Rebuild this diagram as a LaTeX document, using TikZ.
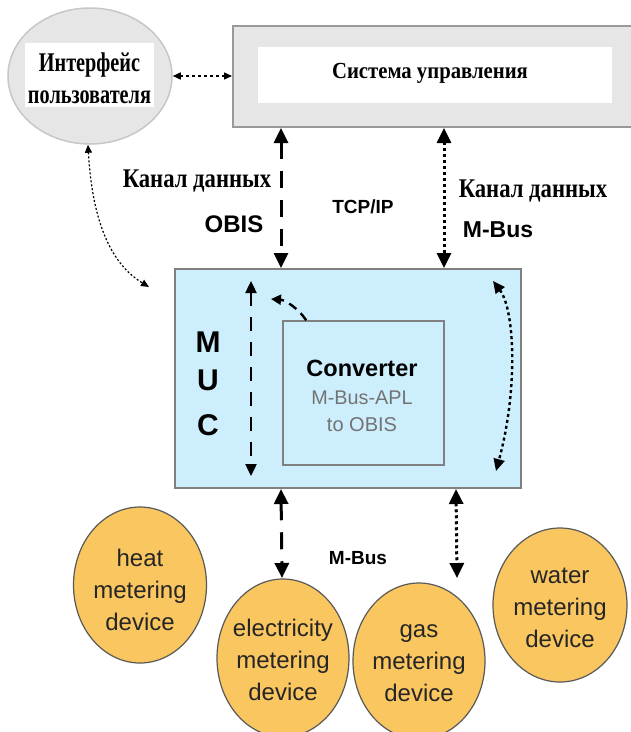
\documentclass[tikz,border=0pt]{standalone}
\usepackage{fontspec}
\setmainfont{Liberation Serif}
\setsansfont{Liberation Sans}
\newfontfamily\rusf[FakeStretch=0.84]{Liberation Serif}
\newfontfamily\rusi[FakeStretch=0.75]{Liberation Serif}
\newfontfamily\russ[FakeStretch=0.9]{Liberation Serif}
\usetikzlibrary{shapes.geometric,arrows.meta,calc}
\definecolor{mucblue}{HTML}{CDEEFC}
\definecolor{meter}{HTML}{F9C660}
\definecolor{lgray}{HTML}{E6E6E6}
\tikzset{
  big/.style={line width=3pt,{Triangle[width=14pt,length=15pt]}-{Triangle[width=14pt,length=15pt]}},
  mid/.style={line width=2.4pt,{Triangle[width=11pt,length=12pt]}-{Triangle[width=11pt,length=12pt]}},
  thin/.style={line width=1.4pt,{Triangle[width=7pt,length=8pt]}-{Triangle[width=7pt,length=8pt]}},
  dashA/.style={dash pattern=on 17pt off 12pt},
  dotA/.style={dash pattern=on 3pt off 3pt},
  meterbox/.style={ellipse,draw=black!65,line width=1.2pt,fill=meter,inner sep=0pt},
  metertext/.style={font=\sffamily\fontsize{24}{32}\selectfont,align=center,inner sep=0pt,text=black!85},
  rus/.style={font=\rusf\bfseries\fontsize{27}{32}\selectfont,inner sep=0pt,align=center},
  sansb/.style={font=\sffamily\bfseries,inner sep=0pt},
}
\begin{document}
\begin{tikzpicture}[x=1pt,y=-1pt]
\clip (0,0) rectangle (631,732);
\fill[white] (0,0) rectangle (631,732);
% system
\node[draw=black!40,line width=2pt,fill=lgray,minimum width=407pt,minimum height=101pt,inner sep=0pt] (sys) at (436.5,76.5) {};
\node[fill=white,minimum width=354pt,minimum height=56pt,inner sep=0pt] (sysin) at (435,75) {};
\node[font=\russ\bfseries\fontsize{23}{28}\selectfont,inner sep=0pt] (systext) at (430,73) {Система управления};
% interface
\node[ellipse,draw=black!22,line width=1.5pt,fill=lgray,minimum width=164pt,minimum height=136pt,inner sep=0pt] (ui) at (90,76) {};
\node[fill=white,minimum width=129pt,minimum height=64pt,inner sep=0pt] (uibox) at (89.5,75) {};
\node[rus,font=\rusi\bfseries\fontsize{27}{32}\selectfont] (uitext) at (89.5,78) {Интерфейс\\пользователя};
\draw[thin,dotA,line width=1.5pt] (ui.east) -- (sys.west |- ui.east);
% MUC
\node[draw=black!50,line width=2pt,fill=mucblue,minimum width=346pt,minimum height=219pt,inner sep=0pt] (muc) at (348,378.5) {};
\node[draw=black!50,line width=1.5pt,fill=mucblue,minimum width=161pt,minimum height=144pt,inner sep=0pt] (conv) at (363.5,393) {};
\node[sansb,font=\sffamily\bfseries\fontsize{23.5}{28}\selectfont] (convt) at (362,368) {Converter};
\node[inner sep=0pt,font=\sffamily\fontsize{19.8}{28}\selectfont,text=black!55] (convs) at (362,398) {M-Bus-APL};
\node[inner sep=0pt,font=\sffamily\fontsize{20}{28}\selectfont,text=black!55] (convo) at (362,425) {to OBIS};
\node[sansb,font=\sffamily\bfseries\fontsize{30}{30}\selectfont] (m) at (208,342) {M};
\node[sansb,font=\sffamily\bfseries\fontsize{30}{30}\selectfont] (u) at (208,380) {U};
\node[sansb,font=\sffamily\bfseries\fontsize{30}{30}\selectfont] (c) at (208,425) {C};
% arrows top
\draw[big,dashA] ([xshift=49pt]sys.south west) -- ([xshift=107pt]muc.north west);
\draw[big,dotA] ([xshift=212pt]sys.south west) -- ([xshift=270pt]muc.north west);
\node[rus] (k1) at (197,181) {Канал данных};
\node[sansb,font=\sffamily\bfseries\fontsize{24}{28}\selectfont] (obis) at (234,224) {OBIS};
\node[sansb,font=\sffamily\bfseries\fontsize{19}{24}\selectfont] (tcp) at (363,207) {TCP/IP};
\node[rus] (k2) at (533,191) {Канал данных};
\node[sansb,font=\sffamily\bfseries\fontsize{23}{28}\selectfont] (mbus1) at (498,230) {M-Bus};
% interface curve
\draw[thin,line width=1.2pt,dash pattern=on 2pt off 2pt] ([xshift=-2pt]ui.south) .. controls (93,235) and (118,268) .. ([xshift=-25pt,yshift=-19pt]muc.north west);
% inside MUC
\draw[mid,dash pattern=on 14pt off 11pt] ([xshift=77pt,yshift=-13pt]muc.north west) -- ([xshift=77pt,yshift=13pt]muc.south west);
\draw[line width=2.4pt,-{Triangle[width=10pt,length=10pt]},dash pattern=on 9pt off 6pt] ([xshift=24pt]conv.north west) .. controls (298,308) and (285,300) .. (271,299);
\draw[mid,dotA] ([xshift=-29pt,yshift=-13pt]muc.north east) .. controls (515,310) and (518,390) .. ([xshift=-26pt,yshift=18pt]muc.south east);
% bottom arrows
\draw[big,dashA] ([xshift=107pt]muc.south west) -- (282,578) coordinate (e1);
\draw[big,dotA] ([xshift=282pt]muc.south west) -- (457,578) coordinate (g1);
\node[sansb,font=\sffamily\bfseries\fontsize{19}{24}\selectfont] (mbus2) at (358,558) {M-Bus};
% meters
\node[meterbox,minimum width=133pt,minimum height=156pt] (heat) at (140,585) {};
\node[metertext] (heatt) at (140,590) {heat\\metering\\device};
\node[meterbox,minimum width=132pt,minimum height=158pt] (elec) at (283,658) {};
\node[metertext] (elect) at (283,660) {electricity\\metering\\device};
\node[meterbox,minimum width=132pt,minimum height=156pt] (gas) at (419,661) {};
\node[metertext] (gast) at (419,663) {gas\\metering\\device};
\node[meterbox,minimum width=134pt,minimum height=154pt] (water) at (560,605) {};
\node[metertext] (watert) at (560,608) {water\\metering\\device};
\end{tikzpicture}
\end{document}
